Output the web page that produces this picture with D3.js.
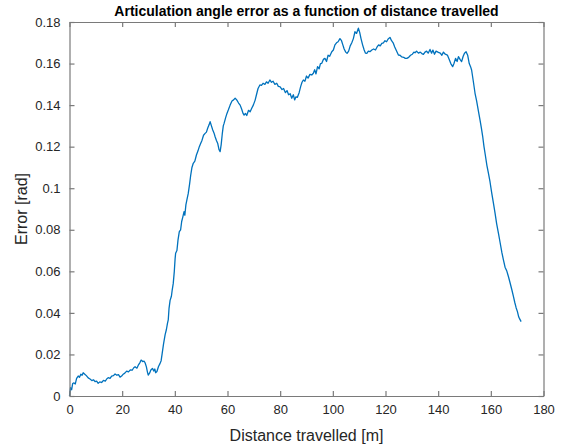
<!DOCTYPE html>
<html>
  <head>
    <meta charset="utf-8">
    <title>Articulation angle error</title>
    <script src="https://d3js.org/d3.v7.min.js"></script>
    <style>
      body { margin: 0; background: #fff; }
      svg { display: block; font-family: "Liberation Sans", Arial, sans-serif; }
      .axis text { fill: #262626; font-size: 13px; }
    </style>
  </head>
  <body>
    <svg id="chart" width="565" height="446"></svg>
    <script>
      // data
      const distance = [0, 0.4, 0.8, 1.2, 1.7, 2.2, 2.7, 3.3, 3.8, 4.3, 4.8, 5.2, 5.8, 6.4, 7.1, 7.8, 8.5, 9.1, 9.7, 10.3,
        10.9, 11.5, 12.2, 12.9, 13.6, 14.2, 14.7, 15.4, 16.0, 16.7, 17.3, 18.0, 18.6, 19.2, 19.8, 20.4, 21.0, 21.7, 22.4, 23.1,
        23.8, 24.4, 24.9, 25.6, 26.2, 26.8, 27.2, 27.8, 28.3, 28.7, 29.2, 29.6, 29.9, 30.4, 30.9, 31.5, 32.0, 32.4, 32.7, 33.2,
        33.8, 34.4, 34.8, 35.2, 35.7, 36.3, 36.8, 37.2, 37.5, 37.8, 38.2, 38.7, 39.0, 39.4, 39.8, 40.1, 40.3, 40.8, 41.2, 41.7,
        42.2, 42.6, 43.0, 43.5, 43.8, 44.2, 44.6, 45.1, 45.6, 46.0, 46.5, 47.0, 47.6, 48.2, 48.8, 49.3, 49.8, 50.3, 50.9, 51.5,
        52.0, 52.5, 53.0, 53.4, 53.9, 54.4, 54.9, 55.3, 55.8, 56.3, 56.8, 57.2, 57.6, 58.0, 58.4, 58.7, 59.3, 59.8, 60.3, 61.0,
        61.7, 62.3, 62.9, 63.5, 64.2, 64.8, 65.4, 65.9, 66.3, 66.8, 67.3, 68.0, 68.6, 69.2, 69.8, 70.5, 71.0, 71.6, 72.3, 72.9,
        73.5, 74.2, 74.8, 75.4, 76.1, 76.7, 77.3, 78.0, 78.7, 79.3, 80.0, 80.7, 81.3, 82.0, 82.6, 83.2, 83.8, 84.4, 85.0, 85.5,
        86.0, 86.5, 87.2, 87.8, 88.3, 88.8, 89.4, 90.0, 90.6, 91.3, 92.0, 92.6, 93.1, 93.6, 94.2, 94.8, 95.3, 95.8, 96.4, 97.0,
        97.6, 98.2, 98.8, 99.6, 100.2, 100.8, 101.4, 102.0, 102.7, 103.3, 103.8, 104.3, 104.9, 105.4, 106.0, 106.6, 107.2, 107.8, 108.4, 109.0,
        109.7, 110.2, 110.7, 111.3, 111.9, 112.4, 112.9, 113.5, 114.1, 114.8, 115.5, 116.2, 116.8, 117.4, 118.0, 118.6, 119.2, 119.8, 120.4, 121.0,
        121.7, 122.3, 122.9, 123.5, 124.2, 124.9, 125.5, 126.2, 126.9, 127.5, 128.1, 128.8, 129.5, 130.2, 130.8, 131.2, 131.8, 132.5, 133.2, 133.8,
        134.4, 135.0, 135.6, 136.2, 136.9, 137.5, 138.0, 138.6, 139.2, 140.1, 140.8, 141.4, 142.0, 142.7, 143.5, 144.2, 144.8, 145.5, 146.0, 146.6,
        147.2, 147.7, 148.3, 148.9, 149.5, 150.0, 150.6, 151.2, 151.8, 152.3, 152.7, 153.4, 154.0, 154.6, 155.3, 155.9, 156.4, 156.9, 157.4, 157.9,
        158.5, 159.1, 159.7, 160.3, 161.0, 161.6, 162.2, 162.9, 163.5, 164.2, 164.8, 165.4, 166.1, 166.7, 167.3, 168.0, 168.6, 169.1, 169.6, 170.1,
        170.6, 171.0, 171.5];
      const error = [0, 0.004, 0.003, 0.006, 0.0063, 0.0058, 0.0085, 0.0096, 0.009, 0.0105, 0.01, 0.0112, 0.0105, 0.0098, 0.0087, 0.0082, 0.0074, 0.0078, 0.0069, 0.0072,
        0.0061, 0.0068, 0.0065, 0.0075, 0.0072, 0.0083, 0.0088, 0.0085, 0.0096, 0.0098, 0.0106, 0.01, 0.0103, 0.0091, 0.0096, 0.0105, 0.011, 0.012, 0.0116, 0.0126,
        0.0124, 0.0136, 0.0141, 0.0134, 0.015, 0.0162, 0.0173, 0.0166, 0.0168, 0.016, 0.014, 0.0115, 0.0101, 0.011, 0.0125, 0.0133, 0.012, 0.013, 0.0112, 0.0118,
        0.0142, 0.0157, 0.017, 0.0205, 0.025, 0.0294, 0.032, 0.035, 0.0366, 0.0422, 0.046, 0.048, 0.051, 0.0542, 0.06, 0.066, 0.0687, 0.07, 0.075, 0.0791,
        0.08, 0.084, 0.086, 0.0887, 0.087, 0.092, 0.0945, 0.0975, 0.102, 0.106, 0.11, 0.112, 0.113, 0.116, 0.118, 0.12, 0.1215, 0.123, 0.1255, 0.1264,
        0.127, 0.129, 0.1305, 0.132, 0.13, 0.128, 0.1265, 0.1248, 0.123, 0.1215, 0.1185, 0.1176, 0.121, 0.126, 0.13, 0.1312, 0.134, 0.136, 0.1376, 0.14,
        0.142, 0.1425, 0.1433, 0.1425, 0.141, 0.14, 0.138, 0.136, 0.1352, 0.136, 0.135, 0.1375, 0.1368, 0.1385, 0.14, 0.1424, 0.145, 0.148, 0.1497, 0.1495,
        0.1505, 0.15, 0.1512, 0.1505, 0.1521, 0.151, 0.1515, 0.15, 0.1505, 0.149, 0.1488, 0.1475, 0.148, 0.146, 0.147, 0.145, 0.1455, 0.1433, 0.145, 0.1425,
        0.144, 0.1437, 0.146, 0.149, 0.151, 0.1521, 0.1515, 0.154, 0.153, 0.1548, 0.1545, 0.1553, 0.157, 0.155, 0.1585, 0.1575, 0.16, 0.1601, 0.162, 0.1625,
        0.161, 0.164, 0.1635, 0.1657, 0.1665, 0.169, 0.17, 0.1705, 0.172, 0.171, 0.169, 0.167, 0.1655, 0.1649, 0.166, 0.1685, 0.17, 0.172, 0.1753, 0.1745,
        0.177, 0.175, 0.172, 0.169, 0.1665, 0.165, 0.1649, 0.166, 0.1657, 0.1665, 0.167, 0.1665, 0.168, 0.169, 0.1685, 0.1697, 0.17, 0.171, 0.1705, 0.1718,
        0.1726, 0.171, 0.17, 0.168, 0.166, 0.1641, 0.164, 0.1632, 0.163, 0.1625, 0.1625, 0.163, 0.164, 0.1645, 0.1655, 0.1652, 0.166, 0.165, 0.1655, 0.1648,
        0.1644, 0.1655, 0.166, 0.165, 0.1668, 0.165, 0.1665, 0.1645, 0.166, 0.1654, 0.165, 0.164, 0.1655, 0.1645, 0.1641, 0.162, 0.16, 0.1585, 0.16, 0.1625,
        0.161, 0.1633, 0.162, 0.1609, 0.1635, 0.165, 0.1657, 0.164, 0.16, 0.1585, 0.1569, 0.151, 0.1457, 0.142, 0.137, 0.1328, 0.129, 0.125, 0.12, 0.116,
        0.111, 0.1072, 0.103, 0.098, 0.0927, 0.088, 0.083, 0.0783, 0.074, 0.069, 0.0654, 0.062, 0.06, 0.0574, 0.0545, 0.051, 0.0478, 0.045, 0.0425, 0.0406,
        0.038, 0.037, 0.0358];
      const xTicks = [0, 20, 40, 60, 80, 100, 120, 140, 160, 180];
      const yTicks = [0, 0.02, 0.04, 0.06, 0.08, 0.1, 0.12, 0.14, 0.16, 0.18];

      const chart = d3.select("#chart");
      const margin = { top: 22, right: 21.5, bottom: 50, left: 69.5 };
      const width = 565, height = 446;

      const x = d3.scaleLinear().domain([0, 180]).range([margin.left, width - margin.right]);
      const y = d3.scaleLinear().domain([0, 0.18]).range([height - margin.bottom, margin.top]);

      // curve
      const line = d3.line()
        .x(function(d, i) { return x(distance[i]); })
        .y(function(d) { return y(d); });
      chart.append("path")
        .datum(error)
        .attr("d", line)
        .attr("fill", "none")
        .attr("stroke", "#0072bd")
        .attr("stroke-width", 1.3)
        .attr("stroke-linejoin", "round");

      // axes, ticks pointing in, box on
      const fmt = function(d) { return d3.format("")(+d.toFixed(2)); };
      const axisStyle = function(g) {
        g.selectAll(".domain").attr("stroke", "#7a7a7a").attr("stroke-width", 1.2);
        g.selectAll(".tick line").attr("stroke", "#7a7a7a").attr("stroke-width", 1.2);
      };
      chart.append("g").attr("class", "axis")
        .attr("transform", "translate(0," + y(0) + ")")
        .call(d3.axisBottom(x).tickValues(xTicks).tickSizeInner(-5).tickSizeOuter(0).tickPadding(9))
        .call(axisStyle);
      chart.append("g").attr("class", "axis")
        .attr("transform", "translate(0," + y(0.18) + ")")
        .call(d3.axisTop(x).tickValues(xTicks).tickSizeInner(-5).tickSizeOuter(0).tickFormat(""))
        .call(axisStyle);
      chart.append("g").attr("class", "axis")
        .attr("transform", "translate(" + x(0) + ",0)")
        .call(d3.axisLeft(y).tickValues(yTicks).tickSizeInner(-5).tickSizeOuter(0).tickPadding(9).tickFormat(fmt))
        .call(axisStyle);
      chart.append("g").attr("class", "axis")
        .attr("transform", "translate(" + x(180) + ",0)")
        .call(d3.axisRight(y).tickValues(yTicks).tickSizeInner(-5).tickSizeOuter(0).tickFormat(""))
        .call(axisStyle);

      // labels
      chart.append("text")
        .attr("x", (x(0) + x(180)) / 2).attr("y", 16)
        .attr("text-anchor", "middle")
        .attr("font-size", 14).attr("font-weight", "bold").attr("fill", "#000")
        .text("Articulation angle error as a function of distance travelled");
      chart.append("text")
        .attr("x", (x(0) + x(180)) / 2).attr("y", 441)
        .attr("text-anchor", "middle")
        .attr("font-size", 16).attr("fill", "#262626")
        .text("Distance travelled [m]");
      chart.append("text")
        .attr("transform", "translate(27," + (y(0.09)) + ") rotate(-90)")
        .attr("text-anchor", "middle")
        .attr("font-size", 16).attr("fill", "#262626")
        .text("Error [rad]");
    </script>
  </body>
</html>
